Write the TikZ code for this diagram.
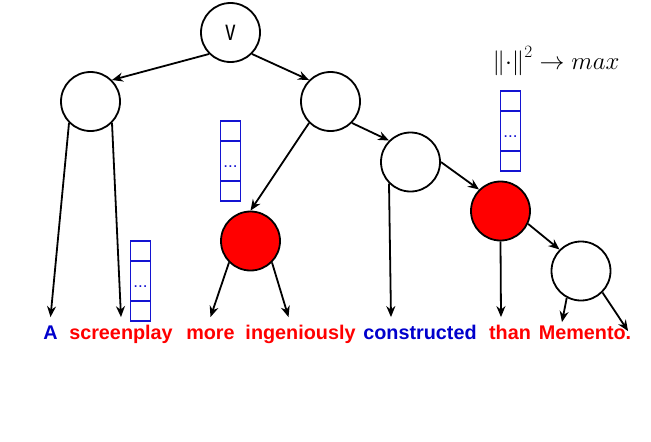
\documentclass[tikz,border=0pt]{standalone}
\usepackage{fontspec}
\setmainfont{Liberation Sans}
\usepackage{graphicx}
\usepackage{xcolor}
\definecolor{wordred}{HTML}{FF0000}
\definecolor{wordblue}{HTML}{0000CC}
\definecolor{cellblue}{HTML}{1414D2}
\usetikzlibrary{arrows.meta, positioning, calc}

\begin{document}
\begin{tikzpicture}[x=1pt, y=-1pt, line width=1.8pt,
  treenode/.style={circle, draw, minimum size=59pt, inner sep=0pt},
  hot/.style={treenode, fill=wordred},
  word/.style={anchor=base, font=\fontsize{19.8}{24}\selectfont\bfseries,
    inner xsep=0pt, inner ysep=7pt, text height=14pt, text depth=4pt},
  cell/.style={draw=cellblue, minimum width=20pt, minimum height=20pt,
    inner sep=0pt, outer sep=0pt},
  arr/.style={-{Stealth[length=11pt, width=9pt]}}]
  \useasboundingbox (0,0) rectangle (651,442);

  % tree
  \node[treenode] (root) at (230.5, 32.5) {\fontsize{29}{30}\selectfont\scalebox{0.7}[1]{v}};
  \node[treenode] (lft)  at (90.5, 101.5) {};
  \node[treenode] (rgt)  at (330.5, 101.5) {};
  \node[treenode] (mid)  at (410.5, 162) {};
  \node[hot]      (hotA) at (250.5, 241) {};
  \node[hot]      (hotB) at (500.5, 211) {};
  \node[treenode] (tail) at (581, 271) {};

  % sentence
  \node[word, wordblue] (wA)      at (50.5, 339) {A};
  \node[word, wordred]  (wscreen) at (121, 339)  {screenplay};
  \node[word, wordred]  (wmore)   at (210.5, 339) {more};
  \node[word, wordred]  (wingen)  at (300.5, 339) {ingeniously};
  \node[word, wordblue] (wcons)   at (420, 339)  {constructed};
  \node[word, wordred]  (wthan)   at (510, 339)  {than};
  \node[word, wordred]  (wmem)    at (585, 339)  {Memento.};

  % vectors
  \foreach \sx/\sy [count=\i] in {140.5/241, 230.5/121, 510.5/91} {
    \node[cell] (s\i a) at (\sx, \sy+10) {};
    \node[cell, minimum height=40pt, text height=12pt, text depth=0pt,
      text=cellblue, font=\fontsize{17}{17}\selectfont, below=0pt of s\i a] (s\i b) {...};
    \node[cell, below=0pt of s\i b] (s\i c) {};
  }
  \node[anchor=base, font=\fontsize{25}{30}\selectfont] (goal) at (556, 69)
    {$\left\|\cdot\right\|^2 \rightarrow max$};

  % edges
  \draw[arr] (root.south west) -- (lft.north east);
  \draw[arr] (root.south east) -- (rgt.north west);
  \draw[arr] (lft.south west) -- (wA.north);
  \draw[arr] (lft.south east) -- (wscreen.north);
  \draw[arr] (rgt.south west) -- (hotA.north);
  \draw[arr] (rgt.south east) -- (mid.north west);
  \draw[arr] (hotA.south west) -- (wmore.north);
  \draw[arr] (hotA.south east) -- ([xshift=-12pt]wingen.north);
  \draw[arr] (mid.east) -- (hotB.north west);
  \draw[arr] (mid.south west) -- ([xshift=-29pt]wcons.north);
  \draw[arr] (hotB.south) -- ([xshift=-9pt]wthan.north);
  \draw[arr] (hotB.-25) -- (tail.north west);
  \draw[arr] (tail.242) -- ([xshift=-23pt, yshift=-5pt]wmem.north);
  \draw[arr] (tail.south east) -- ([xshift=-4pt, yshift=-14pt]wmem.north east);
\end{tikzpicture}
\end{document}
